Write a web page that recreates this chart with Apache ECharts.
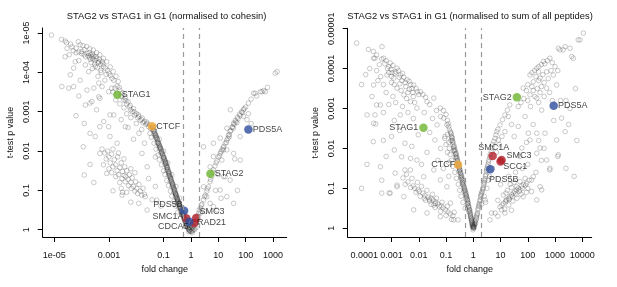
<!DOCTYPE html>
<html>
<head>
<meta charset="utf-8">
<script src="https://cdn.jsdelivr.net/npm/echarts@6/dist/echarts.min.js"></script>
<style>
html, body { margin: 0; padding: 0; background: #fff; }
#chart { width: 617px; height: 287px; }
</style>
</head>
<body>
<div id="chart"></div>
<script>
// all points are [log10 fold change, -log10 p]

// left panel: normalised to cohesin
var cohesinBg = [
  [-5.10,4.95],[-4.73,4.84],[-4.60,4.80],[-4.55,4.76],[-4.40,4.72],[-4.12,4.78],[-4.05,4.70],[-3.95,4.68],[-3.81,4.66],[-3.70,4.60],
  [-3.57,4.57],[-3.45,4.50],[-3.33,4.45],[-3.20,4.36],[-3.08,4.27],[-2.95,4.14],[-2.84,4.02],[-2.74,3.90],[-2.66,3.77],
  [-4.30,4.55],[-4.20,4.50],[-4.10,4.52],[-4.00,4.48],[-3.99,4.53],[-3.90,4.45],[-3.85,4.40],[-3.80,4.48],[-3.75,4.42],[-3.70,4.38],
  [-3.66,4.45],[-3.62,4.40],[-3.58,4.35],[-3.55,4.42],[-3.50,4.30],[-3.45,4.35],[-3.40,4.25],[-3.37,4.27],[-3.30,4.20],[-3.25,4.28],
  [-3.20,4.15],[-3.13,4.11],[-3.05,4.05],[-3.00,3.98],[-2.95,3.92],[-2.89,3.85],[-2.82,3.80],[-3.10,3.95],[-3.30,4.05],[-3.50,4.15],
  [-3.65,4.25],[-3.86,4.19],[-3.74,4.02],[-3.60,4.10],[-3.40,3.90],[-3.37,3.73],[-3.25,3.64],[-3.15,3.80],[-4.23,4.27],[-4.10,4.30],
  [-4.45,4.45],[-4.60,4.40],[-4.53,4.61],[-4.35,4.65],[-4.20,4.62],[-4.41,3.94],[-4.29,4.11],
  [-3.72,4.50],[-3.60,4.47],[-3.48,4.40],[-3.35,4.33],[-3.22,4.22],[-3.68,4.33],[-3.52,4.22],[-3.42,4.12],[-3.28,4.00],[-3.90,4.58],
  [-4.72,3.64],[-4.47,3.60],[-4.29,3.64],[-3.86,3.17],[-3.62,3.26],[-3.37,3.38],[-3.01,3.51],[-2.90,3.60],[-3.19,2.75],[-2.82,2.92],
  [-3.69,3.22],[-3.33,3.34],[-3.45,3.05],[-2.96,2.92],[-4.05,3.80],[-3.80,3.55],[-3.55,3.60],
  [-2.60,3.55],[-2.55,3.40],[-2.50,3.48],[-2.45,3.30],[-2.40,3.35],[-2.35,3.20],[-2.30,3.25],[-2.25,3.12],[-2.20,3.05],[-2.15,3.00],
  [-2.10,3.08],[-2.05,2.92],[-2.00,2.95],[-1.95,2.85],[-1.90,2.88],[-1.85,2.78],[-1.80,2.80],[-1.75,2.72],[-1.70,2.75],[-1.65,2.68],
  [-1.60,2.70],[-1.55,2.62],[-1.50,2.66],[-1.48,2.58],[-2.45,3.10],[-2.20,2.85],[-2.35,2.95],[-2.00,2.70],[-1.80,2.55],[-2.60,3.20],
  [-2.75,3.30],[-2.55,2.80],[-2.30,2.60],[-2.78,3.60],[-2.70,3.65],[-2.62,3.62],[-2.85,3.50],[-2.70,3.45],
  [-2.52,3.38],[-2.38,3.28],[-2.22,3.16],[-2.08,3.00],[-1.92,2.92],[-1.78,2.84],[-1.62,2.74],
  [-1.40,2.60],[-1.36,2.55],[-1.38,2.50],[-1.33,2.50],[-1.30,2.42],[-1.32,2.38],[-1.27,2.38],[-1.25,2.32],[-1.22,2.28],[-1.24,2.22],
  [-1.20,2.24],[-1.18,2.18],[-1.15,2.14],[-1.17,2.08],[-1.12,2.08],[-1.10,2.04],[-1.08,2.00],[-1.10,1.95],[-1.05,1.94],[-1.03,1.90],
  [-1.00,1.86],[-1.02,1.80],[-0.98,1.82],[-0.96,1.77],[-0.93,1.72],[-0.95,1.66],[-0.91,1.68],[-0.89,1.62],[-0.87,1.57],[-0.89,1.52],
  [-0.85,1.54],[-0.83,1.49],[-0.80,1.43],[-0.82,1.38],[-0.78,1.38],[-0.76,1.34],[-0.74,1.30],[-0.76,1.24],[-0.72,1.26],[-0.70,1.21],
  [-0.67,1.15],[-0.69,1.10],[-0.65,1.11],[-0.63,1.06],[-0.61,1.02],[-0.63,0.96],[-0.59,0.98],[-0.57,0.93],[-0.55,0.89],[-0.57,0.84],
  [-0.53,0.85],[-0.51,0.80],[-0.49,0.76],[-0.51,0.71],[-0.47,0.72],[-0.45,0.68],[-0.43,0.63],[-0.45,0.58],[-0.41,0.59],[-0.39,0.56],
  [-0.37,0.52],[-0.39,0.47],[-0.35,0.48],[-0.33,0.44],[-0.31,0.40],[-0.29,0.36],[-0.27,0.32],[-0.25,0.28],[-0.23,0.24],[-0.21,0.21],
  [-0.19,0.17],[-0.17,0.14],[-0.15,0.11],[-0.13,0.08],[-0.11,0.05],[-0.09,0.02],[-0.07,0.00],[-0.05,-0.02],[-0.03,-0.04],[0.00,-0.05],
  [0.03,-0.04],[0.06,-0.02],
  [-1.41,2.56],[-1.34,2.45],[-1.28,2.34],[-1.21,2.20],[-1.14,2.10],[-1.07,1.97],[-1.01,1.84],[-0.94,1.70],[-0.88,1.58],[-0.81,1.45],
  [-0.75,1.32],[-0.68,1.18],[-0.62,1.04],[-0.56,0.91],[-0.50,0.78],[-0.44,0.65],[-0.38,0.54],[-0.32,0.42],[-0.26,0.30],[-0.20,0.19],
  [-1.39,2.62],[-1.35,2.52],[-1.31,2.45],[-1.29,2.40],[-1.26,2.35],[-1.23,2.30],[-1.19,2.21],[-1.16,2.16],[-1.13,2.11],[-1.11,2.06],
  [-1.06,1.98],[-1.04,1.92],[-0.99,1.84],[-0.97,1.79],[-0.94,1.74],[-0.92,1.70],[-0.90,1.64],[-0.86,1.59],[-0.84,1.52],[-0.81,1.47],
  [-0.79,1.41],[-0.77,1.36],[-0.73,1.28],[-0.71,1.23],[-0.68,1.17],[-0.66,1.13],[-0.64,1.08],[-0.60,1.00],[-0.58,0.95],[-0.56,0.91],
  [-0.54,0.87],[-0.52,0.82],[-0.50,0.78],[-0.48,0.74],[-0.46,0.70],[-0.44,0.66],[-0.42,0.61],[-0.40,0.57],[-0.36,0.50],[-0.34,0.46],
  [-0.30,0.38],[-0.28,0.34],[-0.24,0.26],[-0.22,0.22],[-0.18,0.16],[-0.14,0.10],[-0.10,0.04],[-0.06,-0.01],
  [-1.50,2.45],[-1.45,2.35],[-1.35,2.20],[-1.28,2.05],[-1.20,1.90],[-1.15,1.78],[-1.08,1.65],[-1.00,1.50],[-0.95,1.40],[-0.88,1.25],
  [-0.82,1.12],[-0.75,0.98],[-0.70,0.85],[-0.62,0.72],[-0.55,0.60],[-0.48,0.45],
  [-1.30,2.60],[-1.15,2.30],[-1.00,2.00],[-0.85,1.70],[-0.70,1.40],[-0.55,1.10],[-0.42,0.80],
  [-3.25,2.05],[-3.15,1.95],[-3.05,2.00],[-3.10,1.80],[-3.00,1.85],[-2.95,1.70],[-2.90,1.92],[-2.85,1.60],[-2.80,1.78],[-2.75,1.65],
  [-2.70,1.50],[-2.68,1.85],[-2.65,1.40],[-2.60,1.58],[-2.55,1.70],[-2.52,1.30],[-2.50,1.48],[-2.45,1.38],[-2.42,1.60],[-2.40,1.22],
  [-2.38,1.35],[-2.35,1.50],[-2.30,1.28],[-2.28,1.12],[-2.25,1.40],[-2.20,1.20],[-2.18,1.05],[-2.15,1.32],[-2.10,1.10],[-2.05,0.98],
  [-2.02,1.22],[-1.98,1.05],[-1.95,0.92],[-1.90,1.15],[-1.85,0.98],[-1.80,0.88],[-1.75,1.05],[-1.70,0.90],[-1.67,0.84],[-2.60,1.20],
  [-2.75,1.35],[-2.90,1.45],[-3.00,1.55],[-2.55,1.05],[-2.35,0.95],[-2.20,1.55],[-2.05,1.45],[-2.65,1.95],[-2.45,1.80],[-2.85,2.05],
  [-3.20,1.65],[-2.50,0.95],
  [-3.69,1.66],[-3.90,1.39],[-3.08,1.43],[-3.50,2.37],[-3.01,2.62],[-2.40,2.62],[-2.52,0.88],[-1.91,0.67],[-1.42,0.76],[-3.33,2.62],
  [-2.96,2.37],[-3.69,2.45],[-3.94,2.11],[-3.33,1.94],[-2.85,0.99],[-1.25,0.75],[-1.79,1.94],[-1.60,1.60],[-1.70,2.20],[-2.10,2.30],
  [-2.70,2.20],[-3.55,1.20],[-1.55,1.30],[-1.30,1.10],[-1.10,0.60],[-1.60,0.50],[-2.20,0.70],[-4.20,2.90],[-3.90,2.70],[-4.10,3.40],
  [-1.90,2.45],[-1.30,1.85],
  [0.22,0.33],[0.30,0.50],[0.38,0.62],[0.46,0.76],[0.52,0.88],[0.58,0.98],[0.64,1.09],[0.70,1.22],[0.76,1.36],[0.82,1.52],
  [0.88,1.62],[0.95,1.75],[1.00,1.85],[1.07,1.94],[1.13,2.03],[1.20,2.12],[1.25,2.20],[1.31,2.28],[1.37,2.40],[1.43,2.50],
  [1.50,2.60],[1.56,2.71],[1.62,2.78],[1.70,2.86],[1.78,2.94],[1.85,3.00],[1.92,3.05],[2.00,3.12],[2.10,3.22],[2.20,3.32],
  [2.29,3.47],[2.40,3.40],[2.54,3.51],[2.66,3.54],[2.80,3.62],[3.08,3.98],[3.15,4.02],
  [1.30,2.22],[1.35,2.32],[1.40,2.42],[1.46,2.52],[1.52,2.62],[1.58,2.68],[1.64,2.74],[1.72,2.82],[1.80,2.90],[1.88,2.98],
  [1.95,3.08],[1.40,2.36],[1.55,2.58],[1.68,2.72],[1.10,1.98],[1.18,2.08],[1.05,1.88],[0.92,1.70],[0.80,1.46],[0.72,1.28],
  [0.60,1.04],[0.50,0.84],
  [0.82,2.20],[1.07,2.33],[1.19,2.03],[1.13,1.77],[1.56,1.94],[1.80,1.77],[1.19,1.35],[1.07,1.01],[1.31,0.84],[1.56,0.67],
  [0.70,0.67],[0.95,0.50],[0.52,0.46],[0.46,1.09],[1.44,3.05],[1.80,2.37],[1.31,2.58],[2.60,3.51],[2.72,3.51],[2.35,3.47],
  [0.46,2.11],[0.82,1.86],[1.31,2.03],[1.43,1.26],[0.58,0.84],[0.82,0.59],[0.34,0.42],[1.92,2.88],[2.05,2.80],[1.00,1.40],
  [0.70,1.60],[1.25,1.35],[0.90,1.00],[1.70,1.00],[1.10,0.80],[1.60,1.80],[2.20,2.70],[2.10,2.95],
  [-0.05,0.05],[0.00,0.02],[0.05,0.05],[0.08,0.10],[0.10,0.02],[0.12,0.08],[0.15,0.15],[0.18,0.20],[0.20,0.26],[-0.02,0.10],
  [0.03,0.12],[0.08,0.18],[-0.10,0.12],[0.14,0.00],[0.18,0.05],[0.25,0.35],[0.28,0.42],[-0.20,0.30],[-0.25,0.40],[0.35,0.55],
  [0.40,0.65],[0.05,-0.08],[-0.08,-0.05]
];
var cohesinGenes = ['SMC1A', 'SMC3', 'RAD21', 'PDS5B', 'CDCA5', 'PDS5A', 'STAG1', 'STAG2', 'CTCF'];
var cohesinGeneX = [-0.17, 0.19, 0.12, -0.25, -0.06, 2.10, -2.69, 0.71, -1.42];
var cohesinGeneY = [0.29, 0.30, 0.17, 0.48, 0.20, 2.55, 3.43, 1.42, 2.63];
var cohesinXTicks = [-5, -3, -1, 0, 1, 2, 3];
var cohesinXLabels = ['1e-05', '0.001', '0.1', '1', '10', '100', '1000'];
var cohesinYTicks = [0, 1, 2, 3, 4, 5];
var cohesinYLabels = ['1', '0.1', '0.01', '0.001', '1e-04', '1e-05'];

// right panel: normalised to sum of all peptides
var peptideBg = [
  [-4.28,4.64],[-3.85,4.48],[-3.67,4.43],[-3.55,4.34],[-3.61,4.26],[-3.36,4.24],[-3.29,4.26],[-3.20,4.20],[-3.05,4.14],[-3.10,4.05],
  [-2.95,4.08],[-2.80,4.01],[-2.85,3.92],[-2.68,3.84],[-2.75,3.95],[-2.60,3.88],[-2.55,3.78],[-2.43,3.72],[-2.50,3.65],[-2.35,3.68],
  [-2.30,3.60],[-2.19,3.59],[-2.25,3.50],[-2.10,3.50],[-2.05,3.42],[-1.94,3.42],[-2.00,3.35],[-1.85,3.35],[-1.75,3.28],
  [-3.10,3.90],[-3.00,3.80],[-2.92,3.76],[-3.17,3.84],[-3.00,3.65],[-2.80,3.51],[-2.90,3.60],[-2.70,3.62],[-2.55,3.34],[-2.65,3.45],
  [-2.40,3.40],[-2.31,3.17],[-2.45,3.25],[-2.20,3.30],[-2.07,3.01],[-2.15,3.15],[-1.70,3.17],[-1.45,3.26],[-1.60,3.10],[-1.21,3.01],
  [-1.35,2.95],[-1.09,2.76],[-0.97,2.59],[-1.33,2.59],[-1.50,2.75],[-1.20,2.80],[-1.80,2.90],[-2.68,2.84],[-3.41,3.09],[-3.66,3.59],
  [-3.72,3.30],[-3.90,2.84],[-3.66,2.63],[-3.55,3.09],[-3.61,2.84],[-3.58,2.61],[-3.67,2.17],[-3.40,3.80],[-3.30,3.60],[-3.20,3.40],
  [-2.95,3.30],[-3.10,3.10],[-2.85,3.15],[-2.60,3.05],[-2.40,2.90],[-2.20,2.75],[-2.90,2.70],[-3.30,2.90],[-3.45,4.10],[-3.55,3.95],
  [-3.80,4.00],[-3.95,3.85],[-4.10,3.60],[-3.50,3.70],[-3.35,4.55],[-3.66,4.26],
  [-3.25,4.12],[-3.02,3.98],[-2.88,3.88],[-2.72,3.78],[-2.62,3.70],[-2.48,3.55],[-2.35,3.48],[-2.22,3.40],[-3.15,4.00],[-2.98,3.90],
  [-0.84,2.42],[-0.80,2.30],[-0.82,2.20],[-0.78,2.21],[-0.75,2.10],[-0.71,2.01],[-0.73,1.95],[-0.68,1.92],[-0.64,1.84],[-0.66,1.78],
  [-0.60,1.75],[-0.57,1.66],[-0.59,1.60],[-0.53,1.56],[-0.50,1.48],[-0.52,1.42],[-0.47,1.40],[-0.44,1.32],[-0.46,1.26],[-0.41,1.24],
  [-0.38,1.16],[-0.40,1.10],[-0.35,1.06],[-0.32,0.98],[-0.34,0.92],[-0.29,0.90],[-0.26,0.82],[-0.28,0.76],[-0.23,0.74],[-0.20,0.66],
  [-0.22,0.60],[-0.18,0.56],[-0.15,0.48],[-0.17,0.42],[-0.12,0.38],[-0.10,0.30],[-0.08,0.24],[-0.06,0.18],[-0.04,0.12],[-0.02,0.06],
  [0.00,0.01],[0.02,0.04],[-0.01,-0.04],
  [-0.81,2.36],[-0.77,2.26],[-0.74,2.15],[-0.70,2.06],[-0.67,1.97],[-0.63,1.88],[-0.61,1.80],[-0.58,1.71],[-0.55,1.62],[-0.51,1.52],
  [-0.49,1.45],[-0.45,1.36],[-0.42,1.28],[-0.39,1.20],[-0.36,1.12],[-0.33,1.03],[-0.30,0.95],[-0.27,0.87],[-0.24,0.78],[-0.21,0.70],
  [-0.19,0.62],[-0.16,0.52],[-0.13,0.44],[-0.11,0.35],[-0.09,0.27],[-0.07,0.20],[-0.05,0.14],[-0.03,0.08],
  [-0.83,2.39],[-0.79,2.27],[-0.76,2.18],[-0.72,2.04],[-0.69,1.95],[-0.65,1.86],[-0.62,1.77],[-0.59,1.69],[-0.56,1.60],[-0.54,1.54],
  [-0.50,1.46],[-0.48,1.38],[-0.45,1.30],[-0.43,1.22],[-0.40,1.14],[-0.37,1.08],[-0.34,1.00],[-0.31,0.94],[-0.28,0.85],[-0.25,0.80],
  [-0.22,0.72],[-0.20,0.63],[-0.17,0.55],[-0.14,0.46],[-0.12,0.40],[-0.10,0.32],[-0.08,0.26],[-0.06,0.21],[-0.04,0.15],[-0.02,0.10],
  [0.00,0.04],[0.01,0.02],
  [-0.95,2.35],[-0.90,2.15],[-0.88,2.00],[-0.85,1.85],[-0.80,1.70],[-0.75,1.55],[-0.68,1.40],[-0.62,1.25],[-0.55,1.10],[-0.50,0.95],
  [-0.45,0.80],[-0.38,0.65],[-0.30,0.50],[-1.00,2.10],[-0.95,1.90],[-1.05,2.25],[-0.90,1.65],
  [-0.90,2.55],[-0.95,2.70],[-1.00,2.85],[-1.10,2.95],[-0.88,2.48],[-0.92,2.62],
  [0.03,0.08],[0.06,0.15],[0.10,0.21],[0.13,0.32],[0.17,0.46],[0.20,0.55],[0.25,0.71],[0.29,0.85],[0.36,1.01],[0.40,1.15],
  [0.46,1.34],[0.50,1.50],[0.57,1.71],[0.62,1.85],[0.68,2.01],[0.75,2.18],[0.83,2.34],[0.90,2.48],[0.98,2.59],[1.07,2.72],
  [1.16,2.84],[1.25,2.96],[1.34,3.09],
  [0.08,0.12],[0.12,0.25],[0.15,0.38],[0.22,0.62],[0.27,0.78],[0.33,0.93],[0.38,1.08],[0.43,1.24],[0.48,1.42],[0.54,1.60],
  [0.60,1.78],[0.66,1.93],[0.72,2.10],[0.80,2.25],
  [0.04,0.10],[0.07,0.18],[0.11,0.28],[0.14,0.35],[0.18,0.50],[0.21,0.58],[0.24,0.68],[0.28,0.82],[0.31,0.90],[0.35,0.98],
  [0.39,1.12],[0.42,1.20],[0.45,1.30],[0.49,1.46],[0.52,1.55],[0.56,1.66],
  [0.30,0.60],[0.40,0.80],[0.50,1.00],[0.60,1.30],[0.70,1.50],[0.85,1.90],[0.95,2.10],[1.05,2.30],[0.45,0.65],[0.55,1.20],
  [2.08,3.84],[2.33,4.01],[2.57,4.18],[2.81,4.26],[2.20,3.67],[1.83,3.51],[2.45,3.76],[2.69,3.92],[2.94,3.84],[3.06,3.59],
  [2.69,3.51],[2.33,3.26],[2.08,3.34],[3.18,4.47],[3.37,4.55],[3.55,4.51],[3.85,4.72],[4.04,4.89],[3.67,4.26],[3.12,4.51],
  [3.30,4.47],[3.61,4.30],[3.92,4.72],[2.39,3.92],[2.51,2.96],[2.26,3.30],[2.63,2.38],[3.06,2.21],[3.37,2.42],[3.24,2.76],
  [2.81,1.46],[2.33,1.88],[1.78,2.01],[1.90,2.80],[1.65,3.05],[1.28,2.80],[1.16,2.42],[0.86,2.42],[0.92,2.21],[1.65,2.55],
  [2.02,2.38],
  [2.15,3.90],[2.25,3.95],[2.40,4.05],[2.50,4.10],[2.62,4.12],[2.72,4.20],[2.30,3.80],[2.40,3.70],[2.55,3.85],[2.60,3.65],
  [2.75,3.75],[2.85,3.95],[2.50,3.55],[2.15,3.55],[2.00,3.60],[1.95,3.45],[2.20,3.45],[2.35,3.50],[2.45,3.40],[2.60,3.30],
  [2.80,3.40],[2.90,3.20],[2.00,3.20],[1.85,3.25],[1.75,3.15],[2.10,3.05],[2.40,3.15],[3.00,4.05],[3.10,3.95],[2.90,4.15],
  [3.40,3.20],[3.55,3.00],[3.75,3.50],[3.20,3.20],[3.50,2.60],[3.80,2.20],[2.95,2.70],[3.10,1.80],[2.60,2.00],[3.40,1.50],
  [3.70,1.30],[1.40,2.60],[1.50,2.30],[2.20,2.60],[2.40,2.20],[1.95,2.15],[2.50,1.70],[3.12,1.84],
  [0.98,0.54],[1.10,0.62],[1.20,0.70],[1.23,0.71],[1.30,0.75],[1.35,0.79],[1.40,0.84],[1.47,0.88],[1.52,0.92],[1.59,0.96],
  [1.65,1.00],[1.71,0.96],[1.78,1.06],[1.85,1.10],[1.96,1.13],[2.05,1.20],[2.20,1.29],[1.10,0.83],[1.25,0.95],[1.40,1.02],
  [1.59,1.04],[1.71,1.17],[1.83,0.79],[1.60,0.75],[1.45,0.68],[1.30,0.58],[1.15,0.48],[1.04,0.46],[0.80,0.38],[0.61,0.21],
  [1.90,1.25],[2.00,1.00],[1.50,1.15],[1.35,1.10],[1.20,0.88],[1.75,0.85],[1.95,0.90],[2.14,1.21],[2.14,0.92],[2.51,0.96],
  [2.45,1.04],[2.33,0.71],[2.69,1.71],[2.45,2.01],[2.81,1.50],[2.08,2.21],[2.33,2.38],[1.71,1.80],[1.16,0.38],[0.67,0.38],
  [0.43,0.71],[0.90,0.70],[1.00,1.10],[1.55,1.40],[1.80,1.50],[2.00,1.60],[2.30,1.40],[1.30,1.30],[0.90,0.30],[1.40,0.45],
  [1.05,0.58],[1.18,0.66],[1.32,0.72],[1.44,0.80],[1.55,0.86],[1.68,0.92],[1.80,1.00],[1.92,1.08],
  [-2.58,1.26],[-2.40,1.16],[-2.21,1.06],[-2.03,0.96],[-1.85,0.88],[-1.67,0.78],[-1.48,0.71],[-1.30,0.61],[-1.11,0.51],[-0.93,0.41],
  [-0.75,0.31],[-0.56,0.21],[-2.50,1.10],[-2.30,1.02],[-2.10,0.90],[-1.95,0.80],[-1.75,0.70],[-1.55,0.60],[-1.40,0.52],[-1.20,0.42],
  [-1.00,0.32],[-0.80,0.22],[-2.45,1.35],[-2.25,1.25],[-2.05,1.15],[-1.90,1.05],[-1.70,0.95],[-1.50,0.85],[-1.35,0.75],[-1.15,0.65],
  [-0.95,0.55],[-0.70,0.40],[-1.60,0.68],[-1.40,0.62],[-1.25,0.55],[-1.80,0.75],[-1.55,0.75],[-1.45,0.58],
  [-2.15,1.00],[-1.98,0.92],[-1.78,0.82],[-1.62,0.72],[-1.38,0.66],[-1.18,0.56],[-1.02,0.46],[-0.85,0.36],
  [-3.41,1.54],[-3.05,0.88],[-2.80,1.04],[-2.31,1.46],[-2.07,1.71],[-1.82,1.29],[-1.45,1.46],[-1.21,1.21],[-0.97,1.04],[-0.84,0.63],
  [-1.70,0.38],[-2.19,0.46],[-1.21,0.29],[-0.72,0.21],[-2.55,0.79],[-3.09,0.88],[-2.80,1.08],[-3.36,1.20],[-3.36,0.88],
  [-2.02,2.34],[-2.51,2.13],[-2.90,1.96],[-2.63,1.79],[-2.26,2.05],[-1.41,2.21],[-1.04,2.30],[-2.51,1.46],[-2.87,1.38],[-3.20,1.80],
  [-3.00,2.30],[-1.70,1.90],[-1.30,1.70],[-1.10,1.50],[-1.90,1.60],[-2.30,1.75],[-2.70,2.45],[-3.30,2.20],[-4.10,1.00],[-3.90,1.60],
  [-1.60,2.40],[-1.20,2.00],[-0.90,1.30],
  [0.00,0.00],[-0.03,0.03],[0.04,0.02],[0.01,0.06],[-0.05,0.08],[0.05,0.10]
];
var peptideGenes = ['SMC1A', 'SMC3', 'SCC1', 'PDS5B', 'PDS5A', 'STAG1', 'STAG2', 'CTCF'];
var peptideGeneX = [0.71, 1.04, 1.00, 0.62, 2.95, -1.83, 1.60, -0.56];
var peptideGeneY = [1.81, 1.71, 1.67, 1.48, 3.07, 2.52, 3.28, 1.59];
var peptideXTicks = [-4, -3, -2, -1, 0, 1, 2, 3, 4];
var peptideXLabels = ['0.0001', '0.001', '0.01', '0.1', '1', '10', '100', '1000', '10000'];
var peptideYTicks = [0, 1, 2, 3, 4, 5];
var peptideYLabels = ['1', '0.1', '0.01', '0.001', '0.0001', '0.00001'];

var cutoffs = [0.5, 2];

var FONT = '"Liberation Sans", Arial, sans-serif';
var geneColor = {
  SMC1A: '#B3212B', SMC3: '#B3212B', RAD21: '#B3212B', SCC1: '#B3212B',
  PDS5A: '#2D4C9B', PDS5B: '#2D4C9B', CDCA5: '#2D4C9B',
  STAG1: '#6DB52F', STAG2: '#6DB52F', CTCF: '#F4A936'
};
// label placement per panel: [side, distance, dx, dy]
var cohesinPlace = {
  STAG1: ['right', 0, 0, 0], CTCF: ['right', 0, 0, 0], PDS5A: ['right', 0, 0, 0], STAG2: ['right', 0, 0, 0],
  PDS5B: ['left', -3, 0, -6], SMC1A: ['left', -1.5, 0, -2], CDCA5: ['left', -3.5, 0, 5],
  SMC3: ['right', -1, 0, -6], RAD21: ['right', -1.5, 0, 0]
};
var peptidePlace = {
  STAG2: ['left', 1, 0, 0], PDS5A: ['right', 0, 0, 0], STAG1: ['left', 1, 0, 0], CTCF: ['left', -1.5, 0, 0],
  SMC1A: ['top', 0, 1, 0], SMC3: ['right', 0.5, 0, -4], SCC1: ['right', -1.5, 0, 4.5], PDS5B: ['bottom', 2, 13.5, 0]
};

function pick(vals, labels) {
  return function (v) {
    var i = vals.indexOf(Math.round(v));
    return i < 0 ? '' : labels[i];
  };
}

function axisPair(idx, xr, yr, xt, xl, yt, yl) {
  var common = {
    gridIndex: idx, type: 'value', splitLine: { show: false },
    axisLine: { onZero: false, lineStyle: { color: '#000', width: 1 } },
    axisTick: { length: 5, lineStyle: { color: '#000', width: 1 } },
    nameTextStyle: { fontFamily: FONT, fontSize: 9, color: '#111' }
  };
  var x = echarts.util.merge({
    min: xr[0], max: xr[1], name: 'fold change', nameLocation: 'middle', nameGap: 28,
    axisTick: { customValues: xt },
    axisLabel: { customValues: xt, formatter: pick(xt, xl), fontFamily: FONT, fontSize: 9, color: '#111', margin: 14 }
  }, common, false);
  var y = echarts.util.merge({
    min: yr[0], max: yr[1], name: 't-test p value', nameLocation: 'middle', nameGap: 28,
    axisTick: { customValues: yt },
    axisLabel: { customValues: yt, formatter: pick(yt, yl), rotate: 90, fontFamily: FONT, fontSize: 9, color: '#111', margin: 12 }
  }, common, false);
  return [x, y];
}

function bgSeries(idx, pts) {
  return {
    type: 'scatter', xAxisIndex: idx, yAxisIndex: idx, data: pts, silent: true,
    symbol: 'circle', symbolSize: 4.6,
    itemStyle: { color: 'rgba(0,0,0,0)', borderColor: 'rgba(40,40,40,0.38)', borderWidth: 0.8 },
    markLine: {
      silent: true, symbol: ['none', 'none'], label: { show: false },
      lineStyle: { type: [5, 4], color: '#999', width: 1.2 },
      data: cutoffs.map(function (c) { return { xAxis: Math.log10(c) }; })
    }
  };
}

function geneSeries(idx, names, xs, ys, place) {
  var data = names.map(function (n, i) {
    var p = place[n];
    return {
      name: n, value: [xs[i], ys[i]],
      itemStyle: { color: geneColor[n] },
      label: {
        show: true, formatter: n, position: p[0], distance: p[1], offset: [p[2], p[3]],
        fontFamily: FONT, fontSize: 9, color: '#111'
      }
    };
  });
  return {
    type: 'scatter', xAxisIndex: idx, yAxisIndex: idx, data: data, silent: true,
    symbol: 'circle', symbolSize: 8.5, z: 3
  };
}

var leftAxes = axisPair(0, [-5.42, 3.5], [-0.186, 5.13], cohesinXTicks, cohesinXLabels, cohesinYTicks, cohesinYLabels);
var rightAxes = axisPair(1, [-4.61, 4.345], [-0.22, 5.01], peptideXTicks, peptideXLabels, peptideYTicks, peptideYLabels);

var chart = echarts.init(document.getElementById('chart'));
chart.setOption({
  animation: false,
  backgroundColor: '#fff',
  grid: [
    { left: 42.7, top: 28, width: 244, height: 209 },
    { left: 347.7, top: 28.3, width: 244, height: 208.7 }
  ],
  xAxis: [leftAxes[0], rightAxes[0]],
  yAxis: [leftAxes[1], rightAxes[1]],
  graphic: [
    { type: 'text', x: 166.5, y: 16.5, style: { text: 'STAG2 vs STAG1 in G1 (normalised to cohesin)', font: '9.4px ' + FONT, fill: '#111', textAlign: 'center', textVerticalAlign: 'middle' } },
    { type: 'text', x: 470, y: 16, style: { text: 'STAG2 vs STAG1 in G1 (normalised to sum of all peptides)', font: '9.4px ' + FONT, fill: '#111', textAlign: 'center', textVerticalAlign: 'middle' } }
  ],
  series: [
    bgSeries(0, cohesinBg),
    geneSeries(0, cohesinGenes, cohesinGeneX, cohesinGeneY, cohesinPlace),
    bgSeries(1, peptideBg),
    geneSeries(1, peptideGenes, peptideGeneX, peptideGeneY, peptidePlace)
  ]
});
</script>
</body>
</html>
